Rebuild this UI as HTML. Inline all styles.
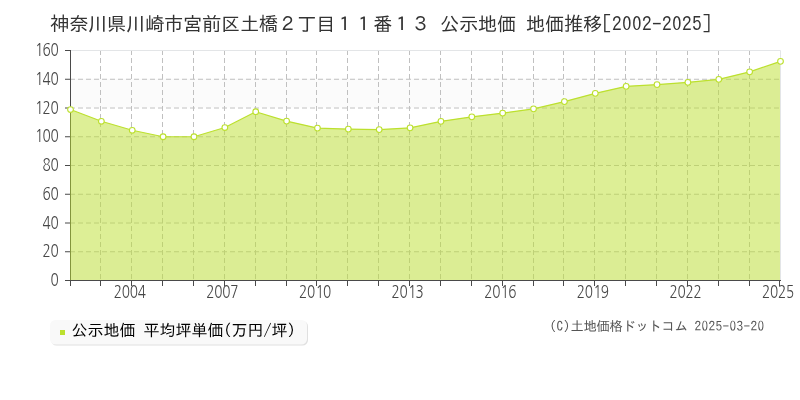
<!DOCTYPE html>
<html lang="ja"><head><meta charset="utf-8"><title>神奈川県川崎市宮前区土橋２丁目１１番１３ 公示地価 地価推移</title>
<style>html,body{margin:0;padding:0;background:#fff}svg{display:block}text{font-family:"IPAGothic","Liberation Mono",monospace;white-space:pre}</style>
</head><body>
<svg width="800" height="400" viewBox="0 0 800 400">
<rect x="0" y="0" width="800" height="400" fill="#ffffff"/>
<rect x="70" y="78.75" width="710" height="28.75" fill="#fbfbfb"/>
<rect x="70" y="136.25" width="710" height="28.75" fill="#fbfbfb"/>
<rect x="70" y="193.75" width="710" height="28.75" fill="#fbfbfb"/>
<rect x="70" y="251.25" width="710" height="28.75" fill="#fbfbfb"/>
<path d="M70 251.75H780M70 223H780M70 194.25H780M70 165.5H780M70 136.75H780M70 108H780M70 79.25H780M100.5 50V280M131.5 50V280M162.5 50V280M193.5 50V280M224.5 50V280M255.5 50V280M286.5 50V280M316.5 50V280M347.5 50V280M378.5 50V280M409.5 50V280M440.5 50V280M471.5 50V280M502.5 50V280M533.5 50V280M563.5 50V280M594.5 50V280M625.5 50V280M656.5 50V280M687.5 50V280M718.5 50V280M749.5 50V280" fill="none" stroke="#c0c0c0" stroke-width="1" stroke-dasharray="5 3"/>
<path d="M70.5 50V280.5M65 280.5H781M65 280.5H70M65 251.75H70M65 223H70M65 194.25H70M65 165.5H70M65 136.75H70M65 108H70M65 79.25H70M65 50.5H70M70.5 280V286M100.5 280V286M131.5 280V286M162.5 280V286M193.5 280V286M224.5 280V286M255.5 280V286M286.5 280V286M316.5 280V286M347.5 280V286M378.5 280V286M409.5 280V286M440.5 280V286M471.5 280V286M502.5 280V286M533.5 280V286M563.5 280V286M594.5 280V286M625.5 280V286M656.5 280V286M687.5 280V286M718.5 280V286M749.5 280V286M779.5 280V286" fill="none" stroke="#4a4a4a" stroke-width="1"/>
<path d="M70 280 L70 109.55 L70.5 109.55 L101.37 121.3 L132.239 130.3 L163.109 136.75 L193.978 136.75 L224.848 127.55 L255.717 111.7 L286.587 121.1 L317.457 128.1 L348.326 129.1 L379.196 129.6 L410.065 127.85 L440.935 121.35 L471.804 116.85 L502.674 113.1 L533.543 108.85 L564.413 101.6 L595.283 93.35 L626.152 86.35 L657.022 84.6 L687.891 82.35 L718.761 79.35 L749.63 71.85 L780.5 61.35 L780 61.35 L780 280 Z" fill="#bce02e" fill-opacity="0.5"/>
<path d="M71 50.5H780.5V280" fill="none" stroke="#e3e5e7" stroke-width="1"/>
<path d="M70.5 109.55 L101.37 121.3 L132.239 130.3 L163.109 136.75 L193.978 136.75 L224.848 127.55 L255.717 111.7 L286.587 121.1 L317.457 128.1 L348.326 129.1 L379.196 129.6 L410.065 127.85 L440.935 121.35 L471.804 116.85 L502.674 113.1 L533.543 108.85 L564.413 101.6 L595.283 93.35 L626.152 86.35 L657.022 84.6 L687.891 82.35 L718.761 79.35 L749.63 71.85 L780.5 61.35" fill="none" stroke="#bce02e" stroke-width="1.15" stroke-linejoin="round"/>
<circle cx="70.5" cy="109.55" r="2.85" fill="#ffffff" stroke="#bce02e" stroke-width="1.1"/>
<circle cx="101.37" cy="121.3" r="2.85" fill="#ffffff" stroke="#bce02e" stroke-width="1.1"/>
<circle cx="132.239" cy="130.3" r="2.85" fill="#ffffff" stroke="#bce02e" stroke-width="1.1"/>
<circle cx="163.109" cy="136.75" r="2.85" fill="#ffffff" stroke="#bce02e" stroke-width="1.1"/>
<circle cx="193.978" cy="136.75" r="2.85" fill="#ffffff" stroke="#bce02e" stroke-width="1.1"/>
<circle cx="224.848" cy="127.55" r="2.85" fill="#ffffff" stroke="#bce02e" stroke-width="1.1"/>
<circle cx="255.717" cy="111.7" r="2.85" fill="#ffffff" stroke="#bce02e" stroke-width="1.1"/>
<circle cx="286.587" cy="121.1" r="2.85" fill="#ffffff" stroke="#bce02e" stroke-width="1.1"/>
<circle cx="317.457" cy="128.1" r="2.85" fill="#ffffff" stroke="#bce02e" stroke-width="1.1"/>
<circle cx="348.326" cy="129.1" r="2.85" fill="#ffffff" stroke="#bce02e" stroke-width="1.1"/>
<circle cx="379.196" cy="129.6" r="2.85" fill="#ffffff" stroke="#bce02e" stroke-width="1.1"/>
<circle cx="410.065" cy="127.85" r="2.85" fill="#ffffff" stroke="#bce02e" stroke-width="1.1"/>
<circle cx="440.935" cy="121.35" r="2.85" fill="#ffffff" stroke="#bce02e" stroke-width="1.1"/>
<circle cx="471.804" cy="116.85" r="2.85" fill="#ffffff" stroke="#bce02e" stroke-width="1.1"/>
<circle cx="502.674" cy="113.1" r="2.85" fill="#ffffff" stroke="#bce02e" stroke-width="1.1"/>
<circle cx="533.543" cy="108.85" r="2.85" fill="#ffffff" stroke="#bce02e" stroke-width="1.1"/>
<circle cx="564.413" cy="101.6" r="2.85" fill="#ffffff" stroke="#bce02e" stroke-width="1.1"/>
<circle cx="595.283" cy="93.35" r="2.85" fill="#ffffff" stroke="#bce02e" stroke-width="1.1"/>
<circle cx="626.152" cy="86.35" r="2.85" fill="#ffffff" stroke="#bce02e" stroke-width="1.1"/>
<circle cx="657.022" cy="84.6" r="2.85" fill="#ffffff" stroke="#bce02e" stroke-width="1.1"/>
<circle cx="687.891" cy="82.35" r="2.85" fill="#ffffff" stroke="#bce02e" stroke-width="1.1"/>
<circle cx="718.761" cy="79.35" r="2.85" fill="#ffffff" stroke="#bce02e" stroke-width="1.1"/>
<circle cx="749.63" cy="71.85" r="2.85" fill="#ffffff" stroke="#bce02e" stroke-width="1.1"/>
<circle cx="780.5" cy="61.35" r="2.85" fill="#ffffff" stroke="#bce02e" stroke-width="1.1"/>
<text transform="translate(50.5 286) scale(0.85 1.12)" x="0" y="0" font-size="16" fill="#474747" style="font-family:'NanumGothic','IPAGothic',sans-serif">0</text>
<text transform="translate(42.5 257.25) scale(0.85 1.12)" x="0 9.412" y="0" font-size="16" fill="#474747" style="font-family:'NanumGothic','IPAGothic',sans-serif">20</text>
<text transform="translate(42.5 228.5) scale(0.85 1.12)" x="0 9.412" y="0" font-size="16" fill="#474747" style="font-family:'NanumGothic','IPAGothic',sans-serif">40</text>
<text transform="translate(42.5 199.75) scale(0.85 1.12)" x="0 9.412" y="0" font-size="16" fill="#474747" style="font-family:'NanumGothic','IPAGothic',sans-serif">60</text>
<text transform="translate(42.5 171) scale(0.85 1.12)" x="0 9.412" y="0" font-size="16" fill="#474747" style="font-family:'NanumGothic','IPAGothic',sans-serif">80</text>
<text transform="translate(34.5 142.25) scale(0.85 1.12)" x="0.8235 9.412 18.82" y="0" font-size="16" fill="#474747" style="font-family:'NanumGothic','IPAGothic',sans-serif">100</text>
<text transform="translate(34.5 113.5) scale(0.85 1.12)" x="0.8235 9.412 18.82" y="0" font-size="16" fill="#474747" style="font-family:'NanumGothic','IPAGothic',sans-serif">120</text>
<text transform="translate(34.5 84.75) scale(0.85 1.12)" x="0.8235 9.412 18.82" y="0" font-size="16" fill="#474747" style="font-family:'NanumGothic','IPAGothic',sans-serif">140</text>
<text transform="translate(34.5 56) scale(0.85 1.12)" x="0.8235 9.412 18.82" y="0" font-size="16" fill="#474747" style="font-family:'NanumGothic','IPAGothic',sans-serif">160</text>
<text transform="translate(113.739 298) scale(0.85 1.12)" x="0 9.412 18.82 28.24" y="0" font-size="16" fill="#474747" style="font-family:'NanumGothic','IPAGothic',sans-serif">2004</text>
<text transform="translate(206.348 298) scale(0.85 1.12)" x="0 9.412 18.82 28.24" y="0" font-size="16" fill="#474747" style="font-family:'NanumGothic','IPAGothic',sans-serif">2007</text>
<text transform="translate(298.957 298) scale(0.85 1.12)" x="0 9.412 19.65 28.24" y="0" font-size="16" fill="#474747" style="font-family:'NanumGothic','IPAGothic',sans-serif">2010</text>
<text transform="translate(391.565 298) scale(0.85 1.12)" x="0 9.412 19.65 28.24" y="0" font-size="16" fill="#474747" style="font-family:'NanumGothic','IPAGothic',sans-serif">2013</text>
<text transform="translate(484.174 298) scale(0.85 1.12)" x="0 9.412 19.65 28.24" y="0" font-size="16" fill="#474747" style="font-family:'NanumGothic','IPAGothic',sans-serif">2016</text>
<text transform="translate(576.783 298) scale(0.85 1.12)" x="0 9.412 19.65 28.24" y="0" font-size="16" fill="#474747" style="font-family:'NanumGothic','IPAGothic',sans-serif">2019</text>
<text transform="translate(669.391 298) scale(0.85 1.12)" x="0 9.412 18.82 28.24" y="0" font-size="16" fill="#474747" style="font-family:'NanumGothic','IPAGothic',sans-serif">2022</text>
<text transform="translate(762 298) scale(0.85 1.12)" x="0 9.412 18.82 28.24" y="0" font-size="16" fill="#474747" style="font-family:'NanumGothic','IPAGothic',sans-serif">2025</text>
<text x="50 69 88 107 126 145 164 183 202 221 240 259 278 297 316 335 354 373 392 411 430 440 459 478 497 516 526 545 564 583 602 612 622 632 642 652 662 672 682 692 702" y="31" font-size="19.33" fill="#333333" >神奈川県川崎市宮前区土橋２丁目１１番１３ 公示地価 地価推移[2002-2025]</text><ellipse cx="626.84" cy="23.25" rx="2.07" ry="5.72" fill="#ffffff"/><ellipse cx="636.84" cy="23.25" rx="2.07" ry="5.72" fill="#ffffff"/><ellipse cx="676.84" cy="23.25" rx="2.07" ry="5.72" fill="#ffffff"/>
<rect x="51" y="321" width="257" height="24.5" rx="5.5" fill="#e0e0e0"/>
<rect x="50" y="320" width="257" height="24.5" rx="5.5" fill="#f9f9f9"/>
<rect x="60" y="330" width="5" height="5" fill="#bce02e"/>
<text x="71.5 87.5 103.5 119.5 135.5 143.5 159.5 175.5 191.5 207.5 223.5 231.5 247.5 263.5 271.5 287.5" y="336.3" font-size="16" fill="#000000" >公示地価 平均坪単価(万円/坪)</text>
<text x="549.5 556.5 563.5 570.5 583.5 596.5 609.5 622.5 635.5 648.5 661.5 674.5 687.5 694.5 701.5 708.5 715.5 722.5 729.5 736.5 743.5 750.5 757.5" y="330.5" font-size="13.33" fill="#555555" >(C)土地価格ドットコム 2025-03-20</text><ellipse cx="704.84" cy="325.16" rx="1.39" ry="3.92" fill="#ffffff"/><ellipse cx="732.84" cy="325.16" rx="1.39" ry="3.92" fill="#ffffff"/><ellipse cx="760.84" cy="325.16" rx="1.39" ry="3.92" fill="#ffffff"/>
</svg>
</body></html>
